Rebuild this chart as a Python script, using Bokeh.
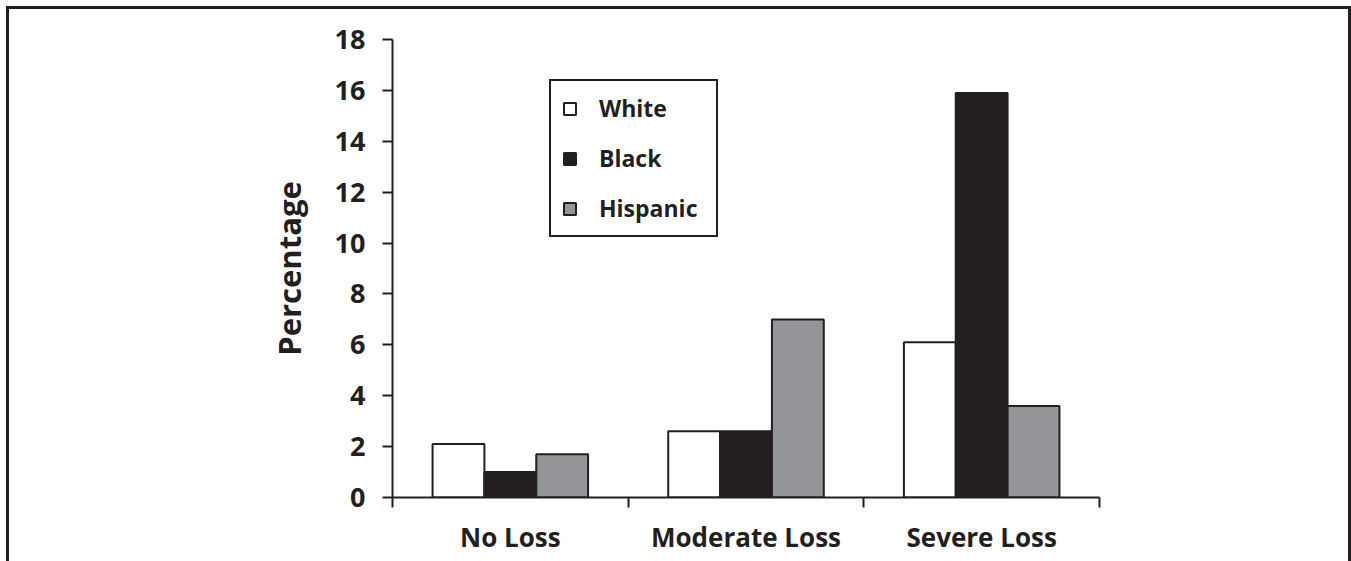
from bokeh.plotting import figure
from bokeh.models import (ColumnDataSource, Range1d, LinearAxis, FixedTicker)
from bokeh.transform import dodge
from bokeh.embed import file_html
from bokeh.resources import INLINE

categories = ["No Loss", "Moderate Loss", "Severe Loss"]
white = [2.1, 2.6, 6.1]
black = [1.0, 2.6, 15.9]
hispanic = [1.7, 7.0, 3.6]
y_ticks = [0, 2, 4, 6, 8, 10, 12, 14, 16, 18]

DARK = "#231f20"
GRAY = "#939598"
FONT = "Open Sans"

n = len(categories)
centers = [i + 0.5 for i in range(n)]
boundaries = list(range(n + 1))

source = ColumnDataSource(dict(pos=centers, category=categories, white=white,
                               black=black, hispanic=hispanic))

p = figure(width=1339, height=552, x_range=Range1d(0, n),
           y_range=Range1d(0, 18), output_backend="svg", toolbar_location=None,
           x_axis_location=None, y_axis_location=None,
           min_border_left=383, min_border_right=255, min_border_top=30,
           min_border_bottom=67, background_fill_color="white",
           border_fill_color="white", outline_line_color=None)
p.styles = {"box-sizing": "content-box", "margin-left": "6px", "margin-top": "6px",
            "border-top": f"3px solid {DARK}", "border-left": f"3px solid {DARK}",
            "border-right": f"3px solid {DARK}"}
p.grid.visible = False

w = 0.22
p.vbar(x=dodge("pos", -w), top="white", width=w, source=source,
       fill_color="white", line_color=DARK, line_width=2, legend_label="White")
p.vbar(x=dodge("pos", 0), top="black", width=w, source=source,
       fill_color=DARK, line_color=DARK, line_width=2, legend_label="Black")
p.vbar(x=dodge("pos", w), top="hispanic", width=w, source=source,
       fill_color=GRAY, line_color=DARK, line_width=2, legend_label="Hispanic")

# y axis
yax = LinearAxis(ticker=FixedTicker(ticks=y_ticks), axis_label="Percentage")
yax.axis_line_color = DARK
yax.axis_line_width = 2
yax.major_tick_line_color = DARK
yax.major_tick_line_width = 2
yax.major_tick_out = 10
yax.major_tick_in = 0
yax.minor_tick_line_color = None
yax.major_label_text_font = FONT
yax.major_label_text_font_style = "bold"
yax.major_label_text_font_size = "27px"
yax.major_label_text_color = DARK
yax.major_label_standoff = 17
yax.axis_label_text_font = FONT
yax.axis_label_text_font_style = "bold"
yax.axis_label_text_font_size = "31px"
yax.axis_label_text_color = DARK
yax.axis_label_standoff = 22
p.add_layout(yax, "left")

# x axis: boundary ticks
bax = LinearAxis(ticker=FixedTicker(ticks=boundaries))
bax.axis_line_color = DARK
bax.axis_line_width = 2
bax.major_tick_line_color = DARK
bax.major_tick_line_width = 2
bax.major_tick_out = 10
bax.major_tick_in = 0
bax.minor_tick_line_color = None
bax.major_label_text_font_size = "1px"
bax.major_label_text_alpha = 0
bax.major_label_standoff = 0
p.add_layout(bax, "below")

# x axis: category labels
cax = LinearAxis(ticker=FixedTicker(ticks=centers),
                 major_label_overrides=dict(zip(centers, categories)))
cax.axis_line_color = None
cax.major_tick_line_color = None
cax.major_tick_out = 0
cax.major_tick_in = 0
cax.minor_tick_line_color = None
cax.major_label_text_font = FONT
cax.major_label_text_font_style = "bold"
cax.major_label_text_font_size = "26px"
cax.major_label_text_color = DARK
cax.major_label_standoff = 11
p.add_layout(cax, "below")

leg = p.legend[0]
leg.location = (157, 260)
leg.orientation = "vertical"
leg.border_line_color = DARK
leg.border_line_width = 2
leg.border_line_alpha = 1
leg.background_fill_color = "white"
leg.background_fill_alpha = 1
leg.margin = 0
leg.padding = 11
leg.spacing = 18
leg.glyph_width = 15
leg.glyph_height = 15
leg.label_width = 106
leg.label_standoff = 22
leg.label_text_font = FONT
leg.label_text_font_style = "bold"
leg.label_text_font_size = "23px"
leg.label_text_color = DARK

open("out.html", "w").write(file_html(p, INLINE))
